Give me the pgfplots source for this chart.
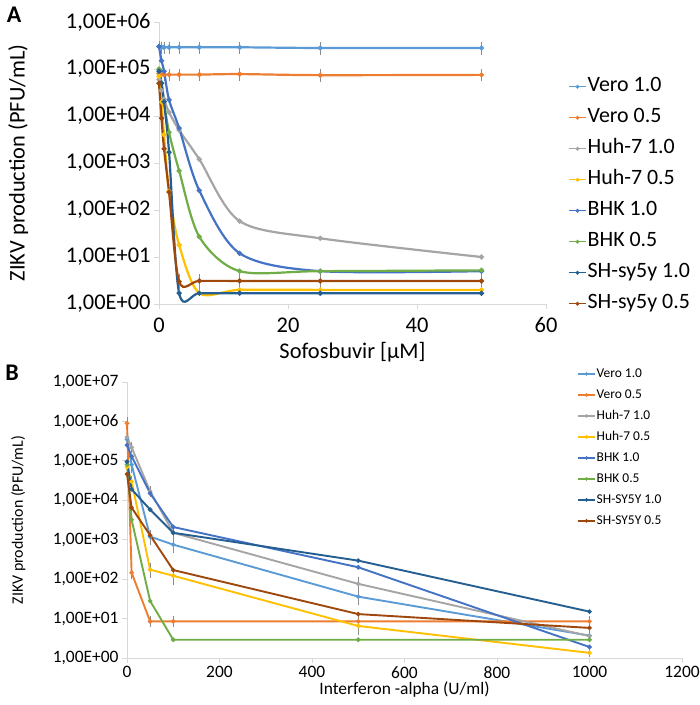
\documentclass[border=0pt]{standalone}
\usepackage{fontspec}
\setmainfont{Carlito}
\usepackage{pgfplots}
\pgfplotsset{compat=1.18}

\definecolor{cVeroA}{HTML}{5B9BD5}
\definecolor{cVeroB}{HTML}{ED7D31}
\definecolor{cHuhA}{HTML}{A5A5A5}
\definecolor{cHuhB}{HTML}{FFC000}
\definecolor{cBhkA}{HTML}{4472C4}
\definecolor{cBhkB}{HTML}{70AD47}
\definecolor{cShA}{HTML}{255E91}
\definecolor{cShB}{HTML}{9E480E}

\pgfplotsset{
  ser/.style={color=#1, solid, line width=2.2bp, mark=*, mark size=1.3bp, mark options={solid}},
  serB/.style={color=#1, solid, line width=1.9bp, mark=*, mark size=1.2bp, mark options={solid}},
  ebar/.style={
    error bars/y dir=both, error bars/y explicit relative,
    error bars/error bar style={draw=black!45, line width=0.6bp},
    error bars/error mark options={draw=black!45, line width=0.6bp, mark size=2bp},
  },
}

\begin{document}
\begin{tikzpicture}
\useasboundingbox (0,0) rectangle (700bp,-705bp);
\node[font=\fontsize{24}{26}\selectfont\bfseries] at (14bp,-15bp) {A};
\node[font=\fontsize{24}{26}\selectfont\bfseries] at (12bp,-373bp) {B};

% panel A: sofosbuvir
\begin{semilogyaxis}[
  scale only axis, clip=false,
  axis x line*=bottom, axis y line*=left,
  axis line style={draw=black!15, line width=0.9bp},
  tick style={draw=black!15, line width=0.9bp},
  tick align=outside, major tick length=5bp,
  yminorticks=false,
  at={(159bp,-304bp)}, anchor=south west,
  width=387bp, height=282bp,
  xmin=0, xmax=60, xtick={0,20,40,60},
  ymin=1, ymax=1e6,
  ytick={1,10,100,1000,10000,100000,1000000},
  yticklabels={{1,00E+00},{1,00E+01},{1,00E+02},{1,00E+03},{1,00E+04},{1,00E+05},{1,00E+06}},
  xticklabels={0,20,40,60},
  tick label style={font=\fontsize{22.5}{24}\selectfont},
  xticklabel style={yshift=-5bp},
  xlabel={Sofosbuvir [µM]},
  ylabel={ZIKV production (PFU/mL)},
  label style={font=\fontsize{22.5}{24}\selectfont},
  xlabel style={at={(axis description cs:0.5,-0.17)}, anchor=center},
  ylabel style={at={(axis description cs:-0.364,0.5)}, anchor=center},
  legend style={draw=none, fill=none, at={(1.057,0.81)}, anchor=north west,
    inner sep=0pt, row sep=9bp, font=\fontsize{22}{24}\selectfont,
    cells={anchor=west}, nodes={inner sep=1bp, text height=15bp, text depth=5bp}},
  legend image post style={line width=1.4bp, mark size=1.1bp},
]
\addplot[ser=cVeroA, smooth, ebar] coordinates {
  (0,3.0e5) +- (0,0.2) (0.39,2.9e5) +- (0,0.2) (0.78,2.9e5) +- (0,0.2) (1.56,2.9e5) +- (0,0.2)
  (3.125,2.9e5) +- (0,0.2) (6.25,2.9e5) +- (0,0.2) (12.5,2.9e5) +- (0,0.2)
  (25,2.8e5) +- (0,0.2) (50,2.8e5) +- (0,0.2)};
\addlegendentry{Vero 1.0}
\addplot[ser=cVeroB, smooth, ebar] coordinates {
  (0,8.0e4) +- (0,0.2) (0.39,7.6e4) +- (0,0.2) (0.78,7.6e4) +- (0,0.2) (1.56,7.6e4) +- (0,0.2)
  (3.125,7.6e4) +- (0,0.2) (6.25,7.6e4) +- (0,0.2) (12.5,7.8e4) +- (0,0.2)
  (25,7.4e4) +- (0,0.2) (50,7.5e4) +- (0,0.2)};
\addlegendentry{Vero 0.5}
\addplot[ser=cHuhA, smooth] coordinates {
  (0,6e4) (0.39,3.5e4) (0.78,2.3e4) (1.56,1.2e4) (3.125,5e3) (6.25,1.2e3)
  (12.5,58) (25,25) (50,10)};
\addlegendentry{Huh-7 1.0}
\addplot[ser=cHuhB, smooth] coordinates {
  (0,7e4) (0.39,2e4) (0.78,4e3) (1.56,250) (3.125,18) (6.25,1.7)
  (12.5,2) (25,2) (50,2)};
\addlegendentry{Huh-7 0.5}
\addplot[ser=cBhkA, smooth] coordinates {
  (0,3e5) (0.39,1.5e5) (0.78,9e4) (1.56,2.2e4) (3.125,5.5e3) (6.25,260)
  (12.5,12) (25,5) (50,5)};
\addlegendentry{BHK 1.0}
\addplot[ser=cBhkB, smooth] coordinates {
  (0,1e5) (0.39,5e4) (0.78,2e4) (1.56,4.5e3) (3.125,680) (6.25,27)
  (12.5,5) (25,5) (50,5.2)};
\addlegendentry{BHK 0.5}
\addplot[ser=cShA, smooth] coordinates {
  (0,9e4) (0.39,5e4) (0.78,2e4) (1.56,1.7e3) (3.125,1.7) (6.25,1.7)
  (12.5,1.7) (25,1.7) (50,1.7)};
\addlegendentry{SH-sy5y 1.0}
\addplot[ser=cShB, smooth, ebar] coordinates {
  (0,5e4) +- (0,0) (0.39,9e3) +- (0,0) (0.78,2e3) +- (0,0) (1.56,240) +- (0,0)
  (3.125,3) +- (0,0.3) (6.25,3.1) +- (0,0.3) (12.5,3.1) +- (0,0.3)
  (25,3.1) +- (0,0.3) (50,3.1) +- (0,0.3)};
\addlegendentry{SH-sy5y 0.5}
\end{semilogyaxis}

% panel B: interferon-alpha
\begin{semilogyaxis}[
  scale only axis, clip=false,
  axis x line*=bottom, axis y line*=left,
  axis line style={draw=black!15, line width=0.9bp},
  tick style={draw=black!15, line width=0.9bp},
  tick align=outside, major tick length=5bp,
  yminorticks=false,
  at={(127bp,-658bp)}, anchor=south west,
  width=555bp, height=276bp,
  xmin=0, xmax=1200, xtick={0,200,...,1200},
  xticklabels={0,200,400,600,800,1000,1200},
  ymin=1, ymax=1e7,
  ytick={1,10,100,1000,10000,100000,1000000,10000000},
  yticklabels={{1,00E+00},{1,00E+01},{1,00E+02},{1,00E+03},{1,00E+04},{1,00E+05},{1,00E+06},{1,00E+07}},
  tick label style={font=\fontsize{17.5}{19}\selectfont},
  xlabel={Interferon -alpha (U/ml)},
  ylabel={ZIKV production (PFU/mL)},
  xlabel style={font=\fontsize{17.5}{19}\selectfont, at={(axis description cs:0.5,-0.116)}, anchor=center},
  ylabel style={font=\fontsize{16}{18}\selectfont, at={(axis description cs:-0.196,0.5)}, anchor=center},
  legend style={draw=none, fill=none, at={(0.811,1.057)}, anchor=north west,
    inner sep=0pt, row sep=6bp, font=\fontsize{13.5}{15}\selectfont,
    cells={anchor=west}, nodes={inner sep=1bp, text height=10bp, text depth=3bp}},
  legend image post style={line width=1.4bp, mark size=1bp},
]
\addplot[serB=cVeroA, ebar] coordinates {
  (0,3.5e5) +- (0,0.3) (10,8e4) +- (0,0.3) (50,1.2e3) +- (0,0.3) (100,750) +- (0,0.3)
  (500,36) +- (0,0.3) (1000,3.7) +- (0,0.2)};
\addlegendentry{Vero 1.0}
\addplot[serB=cVeroB, ebar] coordinates {
  (0,9e5) +- (0,0.3) (10,145) +- (0,0.2) (50,8.5) +- (0,0.2) (100,8.5) +- (0,0.2)
  (500,8.5) +- (0,0.2) (1000,8.5) +- (0,0.2)};
\addlegendentry{Vero 0.5}
\addplot[serB=cHuhA, ebar] coordinates {
  (0,4e5) +- (0,0.2) (10,2.2e5) +- (0,0.2) (50,1.7e4) +- (0,0.2) (100,1.5e3) +- (0,0.2)
  (500,76) +- (0,0.3) (1000,3.6) +- (0,0.2)};
\addlegendentry{Huh-7 1.0}
\addplot[serB=cHuhB, ebar] coordinates {
  (0,7e4) +- (0,0.2) (10,3e4) +- (0,0.2) (50,174) +- (0,0.3) (100,122) +- (0,0.35)
  (500,6.5) +- (0,0.35) (1000,1.35) +- (0,0.1)};
\addlegendentry{Huh-7 0.5}
\addplot[serB=cBhkA] coordinates {
  (0,2.5e5) (10,1.3e5) (50,1.5e4) (100,2.1e3) (500,200) (1000,1.9)};
\addlegendentry{BHK 1.0}
\addplot[serB=cBhkB] coordinates {
  (0,8e4) (10,3.2e3) (50,28) (100,2.9) (500,2.9) (1000,2.9)};
\addlegendentry{BHK 0.5}
\addplot[serB=cShA] coordinates {
  (0,9.5e4) (10,1.9e4) (50,5.8e3) (100,1.5e3) (500,295) (1000,15)};
\addlegendentry{SH-SY5Y 1.0}
\addplot[serB=cShB] coordinates {
  (0,4.6e4) (10,6.5e3) (50,1.3e3) (100,170) (500,13) (1000,5.8)};
\addlegendentry{SH-SY5Y 0.5}
\end{semilogyaxis}
\end{tikzpicture}
\end{document}
